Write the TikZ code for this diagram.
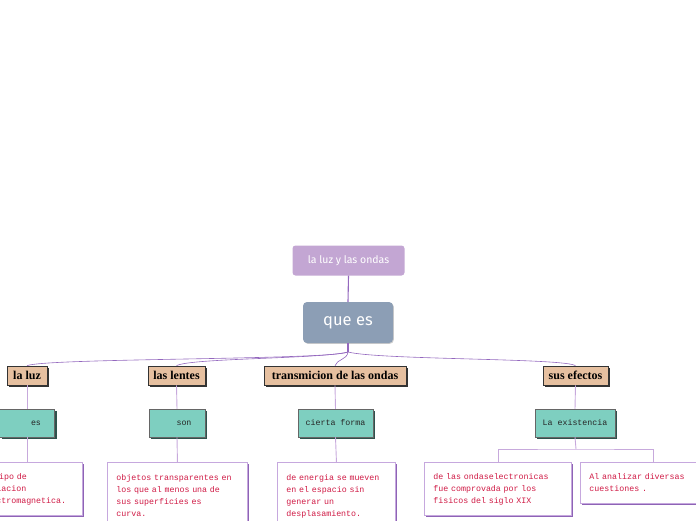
\documentclass[tikz,border=0pt]{standalone}
\usepackage{fontspec}
\setmainfont{Liberation Serif}
\newfontfamily\topfont{Fira Sans}
\newfontfamily\pixfont{Liberation Mono}
\usetikzlibrary{shadows}
\definecolor{lilac}{HTML}{C3A6D3}
\definecolor{slate}{HTML}{8C9EB5}
\definecolor{tanfill}{HTML}{E6C0A0}
\definecolor{tealfill}{HTML}{7ECFC0}
\definecolor{tealshadow}{HTML}{2E524C}
\definecolor{boxline}{HTML}{C6A8DE}
\definecolor{boxshadow}{HTML}{8E64B6}
\definecolor{redtext}{HTML}{D01A45}
\definecolor{linkdark}{HTML}{9468BE}
\definecolor{linklight}{HTML}{C7A9DC}
\begin{document}
\begin{tikzpicture}[x=1pt,y=-1pt,
 rootbox/.style={fill=lilac, rounded corners=3pt, minimum width=112pt, minimum height=30pt, text=white, font=\topfont\fontsize{10.5}{12}\selectfont, inner sep=0pt},
 mainbox/.style={fill=slate, rounded corners=4pt, minimum width=90pt, minimum height=41pt, text=white, font=\topfont\fontsize{16.5}{18}\selectfont, inner sep=0pt, drop shadow={shadow xshift=0.8pt, shadow yshift=-0.8pt, fill=black, opacity=0.2}},
 topicbox/.style={fill=tanfill, draw=black!80, line width=0.6pt, minimum height=19pt, inner sep=0pt, font=\bfseries\fontsize{12}{13}\selectfont, drop shadow={shadow xshift=1.8pt, shadow yshift=-1.8pt, fill=black!80, opacity=1}},
 linkbox/.style={fill=tealfill, draw=black!60, line width=0.5pt, minimum height=28pt, inner sep=0pt, text=black!85, font=\pixfont\fontsize{8.3}{12}\selectfont, drop shadow={shadow xshift=2pt, shadow yshift=-2pt, fill=tealshadow, opacity=1}},
 notebox/.style={fill=white, draw=boxline, line width=0.9pt, anchor=north west, inner xsep=9pt, inner ysep=0pt, align=left, text=redtext, font=\pixfont\fontsize{8.3}{12}\selectfont, drop shadow={shadow xshift=2pt, shadow yshift=-1.5pt, fill=boxshadow, opacity=1}},
 darklink/.style={draw=linkdark, line width=1.1pt},
 curvelink/.style={draw=linkdark, line width=0.6pt},
 lightlink/.style={draw=linklight, line width=0.9pt}
]
\useasboundingbox (0,0) rectangle (696,520);

\coordinate (hub) at (348,352);
\coordinate (fork) at (576,449);

\node[rootbox] (root) at (348.5,260.5) {la luz y las ondas};
\node[mainbox] (main) at (348,322.5) {que es};

\node[topicbox, minimum width=40pt] (t1) at (27,375.5) {la luz};
\node[topicbox, minimum width=57pt] (t2) at (176.5,375.5) {las lentes};
\node[topicbox, minimum width=142pt] (t3) at (335,375.5) {transmicion de las ondas};
\node[topicbox, minimum width=65pt] (t4) at (575.5,375.5) {sus efectos};

\node[linkbox, minimum width=55pt] (l1) at (27,423) {\hspace*{18pt}es};
\node[linkbox, minimum width=56pt] (l2) at (177,423) {\hspace*{14pt}son};
\node[linkbox, minimum width=75pt] (l3) at (335.5,423) {cierta forma};
\node[linkbox, minimum width=80pt] (l4) at (575,423) {La existencia};

\node[notebox, text width=92pt, minimum height=53pt] (n1) at (-28,462) {un tipo de\\radiacion\\electromagnetica.};
\node[notebox, text width=122pt, minimum height=67pt] (n2) at (107,462) {objetos transparentes en\\los que al menos una de\\sus superficies es\\curva.};
\node[notebox, text width=100pt, minimum height=67pt] (n3) at (277,462) {de energia se mueven\\en el espacio sin\\generar un\\desplasamiento.};
\node[notebox, text width=129pt, minimum height=53pt] (n4) at (424,462) {de las ondaselectronicas\\fue comprovada por los\\fisicos del siglo XIX};
\node[notebox, text width=128pt, minimum height=41pt] (n5) at (580,462) {Al analizar diversas\\cuestiones .};

\draw[darklink] (root.south) -- (main.north);
\draw[darklink] (main.south) -- (hub);
\draw[curvelink] (hub) .. controls (330,360) and (45,358) .. (t1.north);
\draw[curvelink] (hub) .. controls (320,359) and (190,358) .. (t2.north);
\draw[curvelink] (hub) .. controls (347,360) and (337,359) .. (t3.north);
\draw[curvelink] (hub) .. controls (380,360) and (565,358) .. (t4.north);

\draw[lightlink] (t1.south) -- (l1.north);
\draw[lightlink] (t2.south) -- (l2.north);
\draw[lightlink] (t3.south) -- (l3.north);
\draw[lightlink] (t4.south) -- (l4.north);

\draw[lightlink] (l1.south) -- (l1.south |- n1.north);
\draw[lightlink] (l2.south) -- (n2.north);
\draw[lightlink] (l3.south) -- (n3.north);
\draw[lightlink] (l4.south) -- (fork);
\draw[lightlink] (n4.north) |- (fork) -| (n5.north);
\end{tikzpicture}
\end{document}
